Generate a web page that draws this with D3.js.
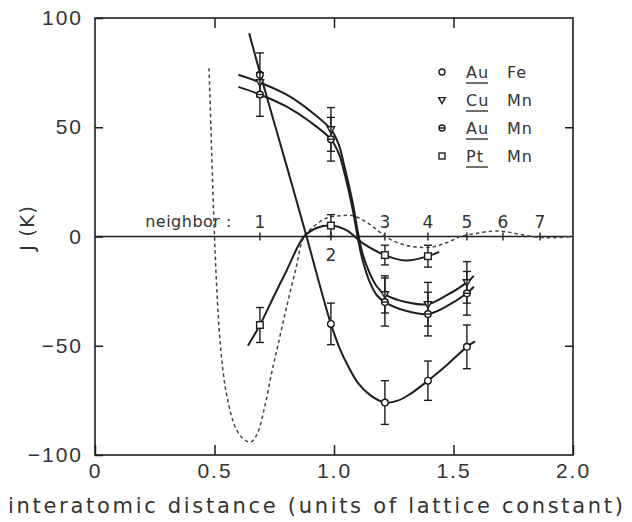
<!DOCTYPE html>
<html>
<head>
<meta charset="utf-8">
<script src="https://cdn.jsdelivr.net/npm/d3@7"></script>
<style>
  body { margin: 0; background: #fff; }
  svg { display: block; font-family: "DejaVu Sans", sans-serif; }
</style>
</head>
<body>
<svg id="chart" width="632" height="522"></svg>
<script>
// neighbour shells (units of lattice constant)
const neighborX = [0.69, 0.987, 1.213, 1.393, 1.556, 1.707, 1.862];
const neighborLabels = ["1", "2", "3", "4", "5", "6", "7"];

// measured J (K) at neighbours 1..5, with error bars
const auFeJ = [74, -40, -76, -66, -50.5];
const auFeErr = [10, 9.5, 10, 9, 10];
const cuMnJ = [70.5, 49, -26.5, -31, -21];
const cuMnErr = [0, 10, 8.5, 10, 9.5];
const auMnJ = [65, 44.5, -30, -35.5, -26];
const auMnErr = [10, 10, 11, 10, 10];
const ptMnJ = [-40.5, 5, -8.5, -9];
const ptMnErr = [8, 5, 4.5, 5];

// drawn-through curves
const auFeCurveX = [0.645, 0.69, 0.80, 0.88, 0.987, 1.025, 1.06, 1.10, 1.15, 1.213, 1.27, 1.32, 1.393, 1.47, 1.556, 1.59];
const auFeCurveJ = [93, 75, 33, 2, -40, -51.5, -59.5, -67, -72.5, -76, -75, -72, -66, -59, -50.5, -48];
const cuMnCurveX = [0.60, 0.69, 0.80, 0.90, 0.987, 1.02, 1.046, 1.079, 1.10, 1.12, 1.15, 1.18, 1.213, 1.30, 1.393, 1.47, 1.556, 1.585];
const cuMnCurveJ = [74, 70.5, 65, 57.5, 49, 42, 31, 15, 2, -8, -17, -23, -26.5, -30, -31, -27, -21, -18];
const auMnCurveX = [0.60, 0.69, 0.80, 0.90, 0.987, 1.02, 1.046, 1.079, 1.10, 1.12, 1.15, 1.18, 1.213, 1.30, 1.393, 1.47, 1.556, 1.585];
const auMnCurveJ = [68.5, 65, 59.5, 52.5, 44.5, 38, 28, 12, -1, -11, -21, -27, -30, -34, -35.5, -32, -26, -23];
const ptMnCurveX = [0.64, 0.69, 0.75, 0.80, 0.875, 0.93, 0.987, 1.05, 1.12, 1.213, 1.30, 1.393, 1.44];
const ptMnCurveJ = [-50, -40.5, -27, -16, 0, 4, 5, 3, -3, -8.5, -11, -9, -7];

// dashed theoretical curve
const rkkyX = [0.477, 0.485, 0.492, 0.50, 0.51, 0.525, 0.55, 0.59, 0.625, 0.653, 0.68, 0.71, 0.74, 0.765, 0.80, 0.84, 0.875, 0.92, 0.97, 1.03, 1.08, 1.13, 1.18, 1.23, 1.30, 1.37, 1.42, 1.48, 1.53, 1.60, 1.67, 1.73, 1.80, 1.87, 1.93, 2.0];
const rkkyJ = [77, 50, 25, 0, -25, -50, -72, -88, -93, -94, -90, -78, -62, -50, -33, -15, 0, 5, 8.5, 9.5, 9.5, 7, 3, -1, -4, -5, -4.6, -2.5, 0, 1.5, 2.5, 2, 0.5, -0.5, -0.5, 0];

const xTicks = [0, 0.5, 1.0, 1.5, 2.0];
const yTicks = [-100, -50, 0, 50, 100];

const series = [
  { name: "Fe", host: "Au", shape: "circle", J: auFeJ, err: auFeErr, cx: auFeCurveX, cj: auFeCurveJ },
  { name: "Mn", host: "Cu", shape: "triangle", J: cuMnJ, err: cuMnErr, cx: cuMnCurveX, cj: cuMnCurveJ },
  { name: "Mn", host: "Au", shape: "dot", J: auMnJ, err: auMnErr, cx: auMnCurveX, cj: auMnCurveJ },
  { name: "Mn", host: "Pt", shape: "square", J: ptMnJ, err: ptMnErr, cx: ptMnCurveX, cj: ptMnCurveJ }
];

const ink = "#1e1e1e";
const svg = d3.select("#chart");
const x = d3.scaleLinear().domain([0, 2]).range([95, 573]);
const y = d3.scaleLinear().domain([-100, 100]).range([455, 18]);

function styleAxis(g) {
  g.select(".domain").remove();
  g.selectAll("line").attr("stroke", ink).attr("stroke-width", 1.5);
  g.selectAll("text")
    .attr("fill", "#333")
    .style("font-size", "21px")
    .style("letter-spacing", "2px");
}

svg.append("g")
  .attr("transform", `translate(0,${y(-100)})`)
  .call(d3.axisBottom(x).tickValues(xTicks).tickSizeInner(-10).tickSizeOuter(0).tickPadding(8).tickFormat(d3.format(".1f")))
  .call(styleAxis)
  .call(g => g.selectAll("text").filter(d => d === 0).text("0"));

svg.append("g")
  .attr("transform", `translate(${x(0)},0)`)
  .call(d3.axisLeft(y).tickValues(yTicks).tickSizeInner(-8).tickSizeOuter(0).tickPadding(12).tickFormat(d3.format("d")))
  .call(styleAxis);

svg.append("g")
  .attr("transform", `translate(0,${y(100)})`)
  .call(d3.axisTop(x).tickValues([0.5, 1.0, 1.5]).tickSizeInner(-10).tickSizeOuter(0).tickFormat(""))
  .call(styleAxis);

svg.append("g")
  .attr("transform", `translate(${x(2)},0)`)
  .call(d3.axisRight(y).tickValues([50, -50]).tickSizeInner(-8).tickSizeOuter(0).tickFormat(""))
  .call(styleAxis);

// frame
svg.append("rect")
  .attr("x", x(0)).attr("y", y(100))
  .attr("width", x(2) - x(0)).attr("height", y(-100) - y(100))
  .attr("fill", "none").attr("stroke", ink).attr("stroke-width", 1.6);

// zero line with neighbour ticks
svg.append("line")
  .attr("x1", x(0)).attr("x2", x(2))
  .attr("y1", y(0)).attr("y2", y(0))
  .attr("stroke", ink).attr("stroke-width", 1.6);

svg.selectAll(".nbtick")
  .data(neighborX)
  .join("line")
  .attr("x1", d => x(d)).attr("x2", d => x(d))
  .attr("y1", y(0) - 4).attr("y2", y(0) + 4)
  .attr("stroke", ink).attr("stroke-width", 1.4);

svg.selectAll(".nblabel")
  .data(neighborX)
  .join("text")
  .attr("x", d => x(d))
  .attr("y", (d, i) => i === 1 ? y(0) + 24 : y(0) - 9)
  .attr("text-anchor", "middle")
  .attr("fill", "#333")
  .style("font-size", "17px")
  .text((d, i) => neighborLabels[i]);

svg.append("text")
  .attr("x", x(neighborX[0]) - 28)
  .attr("y", y(0) - 10)
  .attr("text-anchor", "end")
  .attr("fill", "#333")
  .style("font-size", "16px")
  .style("letter-spacing", "0.5px")
  .text("neighbor :");

// dashed curve
const line = d3.line().x(d => x(d[0])).y(d => y(d[1])).curve(d3.curveCatmullRom);
svg.append("path")
  .attr("d", line(d3.zip(rkkyX, rkkyJ)))
  .attr("fill", "none")
  .attr("stroke", "#444")
  .attr("stroke-width", 1.5)
  .attr("stroke-dasharray", "3.5,3");

// fitted curves
series.forEach(s => {
  svg.append("path")
    .attr("d", line(d3.zip(s.cx, s.cj)))
    .attr("fill", "none")
    .attr("stroke", ink)
    .attr("stroke-width", 2);
});

function marker(g, shape, r) {
  if (shape === "circle") {
    g.append("circle").attr("r", r).attr("fill", "#fff").attr("stroke", ink).attr("stroke-width", 1.4);
  } else if (shape === "dot") {
    g.append("circle").attr("r", r).attr("fill", "#fff").attr("stroke", ink).attr("stroke-width", 1.4);
    g.append("line").attr("x1", -r).attr("x2", r).attr("stroke", ink).attr("stroke-width", 1.4);
  } else if (shape === "square") {
    g.append("rect").attr("x", -r).attr("y", -r).attr("width", 2 * r).attr("height", 2 * r)
      .attr("fill", "#fff").attr("stroke", ink).attr("stroke-width", 1.4);
  } else {
    g.append("path").attr("d", `M${-r * 1.1},${-r * 0.8}L${r * 1.1},${-r * 0.8}L0,${r * 1.2}Z`)
      .attr("fill", "#fff").attr("stroke", ink).attr("stroke-width", 1.4);
  }
}

// error bars and points
series.forEach(s => {
  const pts = s.J.map((j, i) => ({ x: neighborX[i], j: j, e: s.err[i] }));
  const bars = svg.append("g").selectAll("g")
    .data(pts.filter(p => p.e > 0))
    .join("g")
    .attr("stroke", ink).attr("stroke-width", 1.4);
  bars.append("line")
    .attr("x1", p => x(p.x)).attr("x2", p => x(p.x))
    .attr("y1", p => y(p.j + p.e)).attr("y2", p => y(p.j - p.e));
  bars.append("line")
    .attr("x1", p => x(p.x) - 4).attr("x2", p => x(p.x) + 4)
    .attr("y1", p => y(p.j + p.e)).attr("y2", p => y(p.j + p.e));
  bars.append("line")
    .attr("x1", p => x(p.x) - 4).attr("x2", p => x(p.x) + 4)
    .attr("y1", p => y(p.j - p.e)).attr("y2", p => y(p.j - p.e));

  svg.append("g").selectAll("g")
    .data(pts)
    .join("g")
    .attr("transform", p => `translate(${x(p.x)},${y(p.j)})`)
    .each(function() { marker(d3.select(this), s.shape, 3.3); });
});

// legend
const legend = svg.append("g").selectAll("g")
  .data(series)
  .join("g")
  .attr("transform", (d, i) => `translate(442,${72 + i * 28})`);
legend.each(function(d) { marker(d3.select(this), d.shape, 3); });
legend.append("text")
  .attr("x", 24).attr("y", 6)
  .attr("fill", "#333")
  .style("font-size", "16px")
  .style("letter-spacing", "1px")
  .text(d => d.host);
legend.append("line")
  .attr("x1", 24).attr("x2", 46)
  .attr("y1", 11).attr("y2", 11)
  .attr("stroke", "#333").attr("stroke-width", 1.4);
legend.append("text")
  .attr("x", 65).attr("y", 6)
  .attr("fill", "#333")
  .style("font-size", "16px")
  .style("letter-spacing", "1px")
  .text(d => d.name);

// axis titles
svg.append("text")
  .attr("transform", "translate(34,228) rotate(-90)")
  .attr("text-anchor", "middle")
  .attr("fill", "#333")
  .style("font-size", "20px")
  .style("letter-spacing", "1px")
  .text("J (K)");

svg.append("text")
  .attr("x", 8).attr("y", 513)
  .attr("textLength", 615)
  .attr("lengthAdjust", "spacing")
  .attr("fill", "#333")
  .style("font-size", "21px")
  .text("interatomic distance (units of lattice constant)");
</script>
</body>
</html>
